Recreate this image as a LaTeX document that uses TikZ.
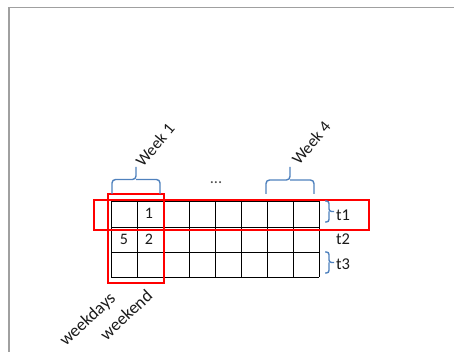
\documentclass[tikz,border=0pt]{standalone}
\usepackage{fontspec}
\setmainfont{Carlito}
\definecolor{bracecol}{HTML}{4F81BD}
\definecolor{framecol}{HTML}{A0A0A0}
\definecolor{boxred}{HTML}{FF0000}
\definecolor{txt}{HTML}{1A1A1A}
\begin{document}
\begin{tikzpicture}[x=1pt,y=-1pt,
  lbl/.style={inner sep=0pt,text=txt,font=\fontsize{16.5}{18}\selectfont},
  biglbl/.style={inner sep=0pt,text=txt,font=\fontsize{17.5}{19}\selectfont},
  cell/.style={inner sep=0pt,text=txt,font=\fontsize{16}{18}\selectfont},
  gridline/.style={line width=0.9pt,black},
  redbox/.style={line width=1.8pt,draw=boxred},
  bracepath/.style={line width=1.4pt,draw=bracecol,rounded corners=3.5pt},
  framepath/.style={line width=1.6pt,draw=framecol}]
\useasboundingbox (0,0) rectangle (455,352);
% frame
\draw[framepath] (9,352) -- (9,7.5) -- (454,7.5);
% grid
\foreach \i in {0,...,8} \draw[gridline] (111+26*\i,201) -- (111+26*\i,277);
\foreach \y in {201,227,252,277} \draw[gridline] (111,\y) -- (319,\y);
% cell texts
\node[cell] (c1) at (149,213.5) {1};
\node[cell] (c5) at (124,239.5) {5};
\node[cell] (c2) at (149,239.5) {2};
% red boxes
\draw[redbox] (94,200) rectangle (369,230);
\draw[redbox] (108,194) rectangle (164,283);
% top braces
\draw[bracepath] (112,194) -- (112,179.5) -- (136,179.5) -- (136,167);
\draw[bracepath] (160,194) -- (160,179.5) -- (136,179.5);
\draw[bracepath] (266,194) -- (266,180) -- (290,180) -- (290,167);
\draw[bracepath] (314,194) -- (314,180) -- (290,180);
% right braces
\draw[bracepath,rounded corners=2.5pt] (325,201) -- (329,201) -- (329,211.5) -- (334,211.5);
\draw[bracepath,rounded corners=2.5pt] (325,222) -- (329,222) -- (329,211.5);
\draw[bracepath,rounded corners=2.5pt] (325,252) -- (329,252) -- (329,262.5) -- (334,262.5);
\draw[bracepath,rounded corners=2.5pt] (325,273) -- (329,273) -- (329,262.5);
% labels
\node[lbl] (w1) at (155,145) [rotate=50] {Week 1};
\node[lbl] (w4) at (311,143) [rotate=50] {Week 4};
\node[lbl,text=black!70] (dots) at (216,183) {...};
\node[lbl] (t1) at (343,215) {t1};
\node[lbl] (t2) at (343,239.5) {t2};
\node[lbl] (t3) at (343,264.5) {t3};
\node[biglbl] (wd) at (88,320) [rotate=43] {weekdays};
\node[biglbl] (we) at (126,315) [rotate=43] {weekend};
\end{tikzpicture}
\end{document}
